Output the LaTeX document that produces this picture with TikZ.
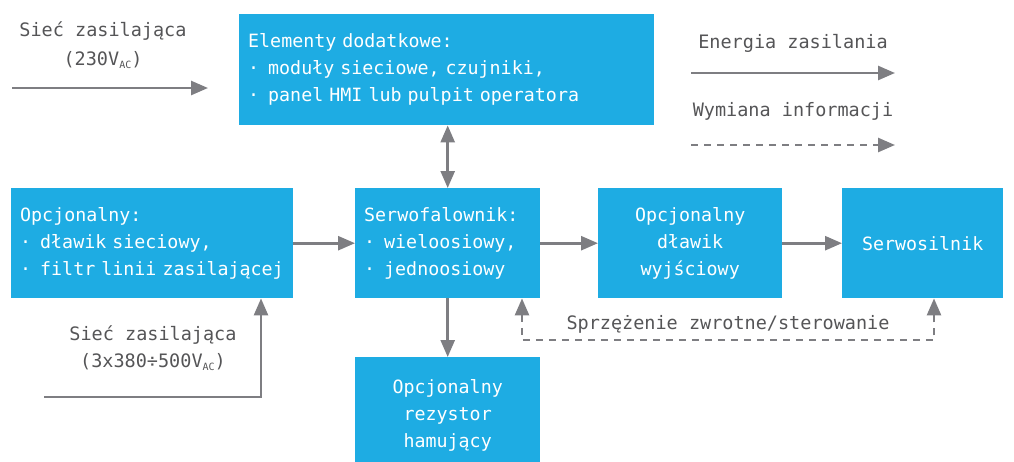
\documentclass[tikz,border=0pt]{standalone}
\usepackage{fontspec}
\setmainfont{DejaVu Sans Mono}
\usetikzlibrary{arrows.meta}
\definecolor{boxblue}{HTML}{1EACE3}
\definecolor{arrgray}{HTML}{7E7E82}
\definecolor{txtgray}{HTML}{555557}
\newcommand{\acsub}{\raisebox{-3pt}{\fontsize{10}{10}\selectfont AC}}
\newcommand{\bl}[1]{\mbox{·\hspace{9pt}#1}}
\tikzset{
  box/.style={fill=boxblue, draw=none, text=white, font=\fontsize{18.3}{27}\selectfont, inner xsep=9pt, inner ysep=0pt, anchor=north west},
  lbox/.style={box, align=left},
  cbox/.style={box, align=center},
  flow/.style={draw=arrgray, line width=2.6pt, -{Triangle[length=17pt,width=14pt]}},
  info/.style={draw=arrgray, line width=2.6pt, dash pattern=on 7pt off 6pt},
  lbl/.style={text=txtgray, font=\fontsize{18.5}{27}\selectfont, inner sep=0pt, align=center},
}
\begin{document}
\begin{tikzpicture}[x=1pt,y=-1pt]
\clip (0,0) rectangle (1014,461);
\useasboundingbox (0,0) rectangle (1014,461);

% boxes
\node[lbox, text width=397pt, minimum height=111pt] (top) at (239,14)
  {Elementy dodatkowe:\\\bl{moduły sieciowe, czujniki,}\\\bl{panel HMI lub pulpit operatora}};
\node[lbox, text width=264pt, minimum height=110pt] (opt) at (11,188)
  {Opcjonalny:\\\bl{dławik sieciowy,}\\\bl{filtr linii zasilającej}};
\node[lbox, text width=167pt, minimum height=110pt] (serwo) at (355,188)
  {Serwofalownik:\\\bl{wieloosiowy,}\\\bl{jednoosiowy}};
\node[cbox, text width=166pt, minimum height=110pt] (dlawik) at (598,188)
  {Opcjonalny\\dławik\\wyjściowy};
\node[cbox, text width=143pt, minimum height=110pt] (silnik) at (842,188)
  {Serwosilnik};
\node[cbox, text width=167pt, minimum height=116pt] (rez) at (355,357)
  {Opcjonalny\\rezystor\\hamujący};

% labels
\node[lbl] (l230a) at (103,31) {Sieć zasilająca};
\node[lbl] (l230b) at (103,60) {(230V\acsub)};
\node[lbl] (l3a) at (153,335) {Sieć zasilająca};
\node[lbl] (l3b) at (153,362) {(3x380÷500V\acsub)};
\node[lbl] (leg1) at (793,43) {Energia zasilania};
\node[lbl] (leg2) at (793,111) {Wymiana informacji};
\node[lbl] (fb) at (728,324) {Sprzężenie zwrotne/sterowanie};

% coordinates
\coordinate (inA) at (12,88);
\coordinate (inB) at (208,88);
\coordinate (f1) at (44,397);
\coordinate (f2) at (261,397);
\coordinate (e1) at (691,73);
\coordinate (e2) at (895,73);
\coordinate (w1) at (691,145);
\coordinate (w2) at (895,145);
\coordinate (fbL) at (522,340);
\coordinate (fbR) at (934,340);

% connectors
\draw[flow] (inA) -- (inB);
\draw[flow] (e1) -- (e2);
\draw[info, -{Triangle[length=17pt,width=14pt]}] (w1) -- (w2);
\draw[flow] (f1) -- (f2) -- (f2 |- opt.south);
\draw[flow] (opt.east) -- (serwo.west);
\draw[flow] (serwo.east) -- (dlawik.west);
\draw[flow] (dlawik.east) -- (silnik.west);
\draw[flow] (serwo.south) -- (rez.north);
\draw[flow, {Triangle[length=17pt,width=14pt]}-{Triangle[length=17pt,width=14pt]}] (top.south -| serwo.north) -- (serwo.north);
\draw[info, {Triangle[length=17pt,width=14pt]}-{Triangle[length=17pt,width=14pt]}] (fbL |- serwo.south) -- (fbL) -- (fbR) -- (fbR |- silnik.south);
\end{tikzpicture}
\end{document}
